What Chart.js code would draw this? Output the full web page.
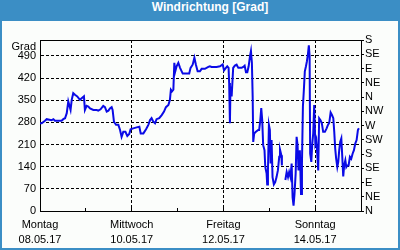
<!DOCTYPE html>
<html>
<head>
<meta charset="utf-8">
<script src="https://cdn.jsdelivr.net/npm/chart.js@4"></script>
<style>
  html, body { margin: 0; padding: 0; }
  body { width: 400px; height: 250px; background: #3b8ec5; position: relative; overflow: hidden; }
  #inner { position: absolute; left: 2px; top: 21px; width: 396px; height: 227px; background: #fbfdfb; }
  #title { position: absolute; left: 20px; top: 0; width: 380px; height: 21px; line-height: 21px; text-align: center;
           color: #fff; font: bold 12px "Liberation Sans", Arial, sans-serif; }
  #c { position: absolute; left: 0; top: 0; }
</style>
</head>
<body>
<div id="inner"></div>
<div id="title">Windrichtung [Grad]</div>
<canvas id="c" width="400" height="250"></canvas>
<script>
// hours since Montag 08.05.17 00:00
const hours = [0,0.9,2.6,3.5,6.1,7.0,7.8,9.6,11.3,12.2,13.1,14.0,14.8,16.0,16.6,17.4,18.3,19.5,20.9,21.8,
  23.0,23.5,24.4,25.3,26.2,27.9,29.7,30.5,31.7,33.1,34.0,34.9,35.8,36.6,37.5,38.0,38.7,39.8,41.0,41.9,
  42.7,43.6,44.7,45.7,46.7,47.4,48.8,50.6,52.0,52.7,54.1,55.5,56.7,57.6,58.4,59.3,60.2,61.0,62.4,63.7,
  64.9,65.9,67.2,68.0,68.5,69.1,69.8,70.3,70.8,71.5,72.4,73.3,74.7,76.7,78.1,78.8,79.9,80.8,81.6,82.5,
  83.7,84.6,86.3,88.1,88.9,89.8,92.4,94.2,95.6,96.3,97.3,98.0,98.7,99.0,99.4,99.7,100.3,101.1,102.0,102.9,
  103.8,105.5,106.4,107.1,107.8,108.5,109.2,109.9,110.4,110.9,111.3,111.6,112.1,113.0,114.2,114.7,115.3,115.8,116.3,116.8,
  117.5,117.9,118.6,118.9,119.3,119.8,120.3,120.7,121.2,121.7,122.4,123.1,123.8,124.5,125.2,125.6,126.3,126.6,127.5,128.4,
  129.1,129.8,130.4,131.1,131.7,132.2,132.7,133.2,133.8,134.3,134.8,135.3,136.0,136.6,137.1,137.6,138.1,138.6,139.2,139.7,
  140.2,140.7,141.1,141.4,142.0,142.5,143.0,143.5,144.1,144.6,145.1,145.6,146.1,146.8,147.5,148.2,149.1,150.0,150.7,151.4,
  152.1,152.8,153.5,154.0,154.5,155.0,155.6,156.1,156.6,157.1,157.7,158.2,158.7,159.2,159.8,160.3,160.8,161.5,162.2,162.9,
  163.6,164.3,165.0,165.7,166.4,166.9];
// wind direction in degrees (unwrapped, 0..540)
const grad = [277,277,285,290,287,290,285,285,285,290,293,309,346,319,351,372,367,362,351,356,
  362,319,332,330,324,319,319,317,321,332,328,314,317,324,328,319,282,272,272,256,
  234,250,250,237,243,258,261,264,266,245,245,258,272,287,293,282,277,290,293,303,
  314,328,335,351,383,378,383,468,441,457,468,452,434,434,434,452,462,484,462,441,
  441,449,449,455,457,455,455,457,463,444,452,457,452,404,277,393,362,452,459,462,
  452,452,455,459,438,438,457,489,505,468,362,218,245,250,256,256,287,325,287,208,
  192,139,118,84,128,272,256,150,224,107,84,91,107,128,171,194,176,144,null,98,
  123,107,123,107,150,43,17,54,118,234,208,128,192,54,150,330,383,441,457,473,
  494,523,489,181,155,213,245,335,213,224,181,128,293,287,277,250,250,261,272,279,
  311,303,293,250,197,165,139,155,192,218,229,171,109,144,160,139,144,144,171,165,
  181,192,213,224,256,261];

const dayNames = ['Montag','Mittwoch','Freitag','Sonntag'];
const dayDates = ['08.05.17','10.05.17','12.05.17','14.05.17'];
const gradTicks = [0,70,140,210,280,350,420,490];
const unitLabel = 'Grad';
const compass = ['N','NE','E','SE','S','SW','W','NW','N','NE','E','SE','S'];

const points = hours.map((h, i) => ({x: h, y: grad[i]}));

const topBorder = {
  id: 'topBorder',
  afterDraw(chart) {
    const {ctx, chartArea: a} = chart;
    ctx.save();
    ctx.strokeStyle = '#000';
    ctx.lineWidth = 1;
    ctx.beginPath();
    ctx.moveTo(a.left, Math.round(a.top) + 0.5);
    ctx.lineTo(a.right + 1, Math.round(a.top) + 0.5);
    ctx.stroke();
    ctx.restore();
  }
};

Chart.defaults.color = '#000';
Chart.defaults.font.family = '"Liberation Sans", Arial, sans-serif';
Chart.defaults.font.size = 11;

new Chart(document.getElementById('c'), {
  type: 'line',
  data: {
    datasets: [{
      data: points,
      borderColor: '#0a0ae6',
      borderWidth: 2,
      pointRadius: 0,
      tension: 0,
      spanGaps: false,
      yAxisID: 'y'
    }]
  },
  options: {
    responsive: false,
    animation: false,
    devicePixelRatio: 1,
    layout: { padding: { top: 40, left: 0, right: 0, bottom: 0 } },
    plugins: { legend: { display: false }, tooltip: { enabled: false } },
    scales: {
      x: {
        type: 'linear',
        min: 0, max: 168,
        afterFit: s => { s.height = 39; },
        ticks: {
          stepSize: 24, autoSkip: false, maxRotation: 0, padding: 9,
          font: { size: 11, lineHeight: 15 / 11 },
          callback: v => (v % 48 === 0 && v < 168) ? [dayNames[v / 48], dayDates[v / 48]] : ''
        },
        grid: {
          color: c => { const v = c.tick && c.tick.value; return (v % 48 === 0 && v > 0 && v < 168) ? '#000' : 'rgba(0,0,0,0)'; },
          tickColor: '#000',
          tickLength: -3,
          lineWidth: 1
        },
        border: { color: '#000', width: 1, dash: [3, 2] }
      },
      y: {
        position: 'left',
        min: 0, max: 540,
        afterFit: s => { s.width = 40; },
        afterBuildTicks: s => { s.ticks = gradTicks.concat([540]).map(v => ({value: v})); },
        ticks: {
          autoSkip: false,
          padding: 4,
          font: { size: 11, lineHeight: 1.2 },
          callback: v => v === 540 ? ['', unitLabel] : String(v)
        },
        grid: {
          color: c => { const v = c.tick && c.tick.value; return (v > 0 && v < 540) ? '#000' : 'rgba(0,0,0,0)'; },
          drawTicks: false,
          lineWidth: 1
        },
        border: { color: '#000', width: 1, dash: [3, 2] }
      },
      y2: {
        position: 'right',
        min: 0, max: 540,
        afterFit: s => { s.width = 39; },
        afterBuildTicks: s => { s.ticks = compass.map((_, i) => ({value: i * 45})); },
        ticks: {
          autoSkip: false,
          padding: 1,
          callback: (v, i) => compass[i]
        },
        grid: { drawOnChartArea: false, tickLength: 3, tickColor: '#000', color: '#000' },
        border: { color: '#000', width: 1 }
      }
    }
  },
  plugins: [topBorder]
});
</script>
</body>
</html>
